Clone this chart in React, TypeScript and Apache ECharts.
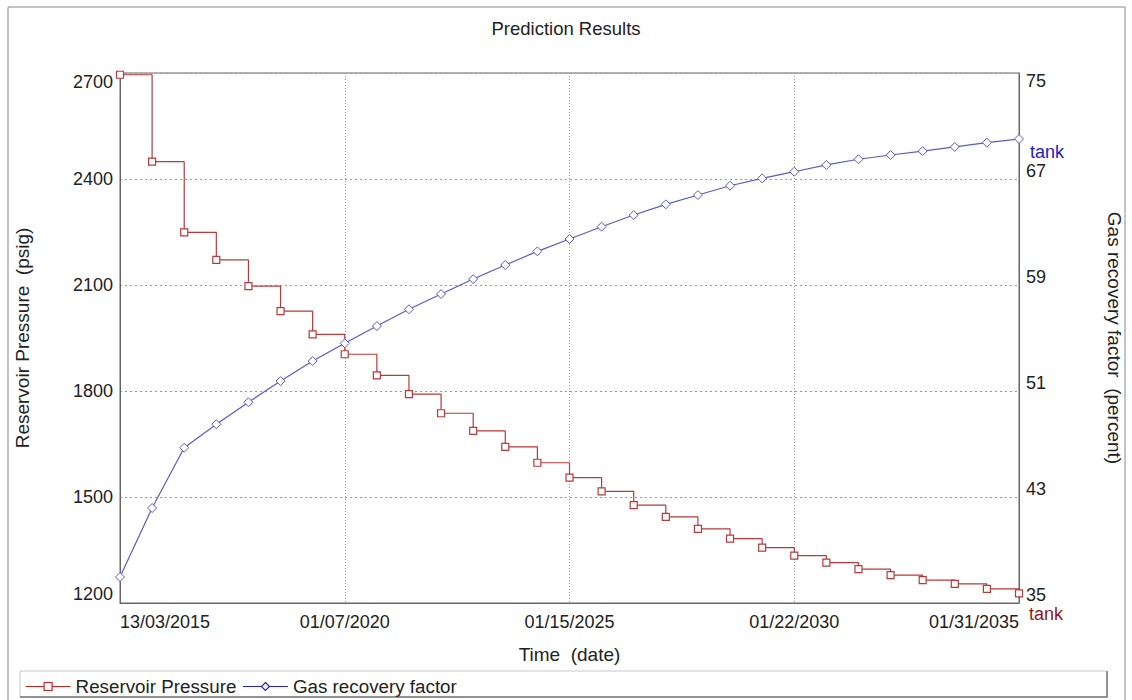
import React, { useEffect, useRef } from "react";
import * as echarts from "echarts";

const xTickLabels = ["13/03/2015", "01/07/2020", "01/15/2025", "01/22/2030", "01/31/2035"];
const stepsPerTick = 7;

const pressure = [
  2695, 2449, 2249, 2171, 2097, 2026, 1960, 1904, 1844, 1791, 1737, 1687, 1642, 1597, 1555,
  1516, 1477, 1444, 1410, 1382, 1357, 1334, 1314, 1296, 1279, 1265, 1254, 1240, 1227,
];
const recovery = [
  36.96, 42.17, 46.72, 48.49, 50.15, 51.75, 53.26, 54.6, 55.9, 57.17, 58.32, 59.45, 60.51,
  61.54, 62.47, 63.4, 64.28, 65.09, 65.79, 66.49, 67.05, 67.55, 68.06, 68.49, 68.81, 69.11,
  69.42, 69.74, 70.02,
];

const FONT = "'Liberation Sans', Arial, sans-serif";
const TXT = "#222";
const TICK_FS = 18;
const NAME_FS = 19;

export default function App() {
  const ref = useRef<HTMLDivElement>(null);
  useEffect(() => {
    if (!ref.current) return;
    const chart = echarts.init(ref.current, null, { renderer: "svg" });
    const pData = pressure.map((v, i) => [i, v]);
    const rData = recovery.map((v, i) => [i, v]);
    chart.setOption({
      animation: false,
      backgroundColor: "#fff",
      textStyle: { fontFamily: FONT },
      title: {
        text: "Prediction Results",
        left: "center",
        top: 14,
        textStyle: { fontFamily: FONT, fontSize: 18.5, fontWeight: "normal", color: TXT },
      },
      grid: {
        left: 120,
        right: 111,
        top: 73,
        bottom: 97,
        show: true,
        borderColor: "#666",
        borderWidth: 1,
        backgroundColor: "#fff",
      },
      legend: {
        left: 20,
        top: 672,
        itemWidth: 45,
        itemHeight: 10,
        itemGap: 6,
        textStyle: { fontFamily: FONT, fontSize: 18.8, color: TXT },
        data: [
          {
            name: "Reservoir Pressure",
            itemStyle: { color: "#fff", borderColor: "#d02020", borderWidth: 1.2 },
            lineStyle: { color: "#d02020", width: 1.2 },
          },
          {
            name: "Gas recovery factor",
            itemStyle: { color: "#fff", borderColor: "#2020d0", borderWidth: 1.2 },
            lineStyle: { color: "#2020d0", width: 1.2 },
          },
        ],
      },
      xAxis: {
        type: "value",
        min: 0,
        max: (xTickLabels.length - 1) * stepsPerTick,
        interval: stepsPerTick,
        name: "Time  (date)",
        nameLocation: "middle",
        nameGap: 42,
        nameTextStyle: { fontFamily: FONT, fontSize: NAME_FS, color: TXT },
        axisLine: { show: true, lineStyle: { color: "#666" } },
        axisTick: { show: false },
        splitLine: { show: true, lineStyle: { color: "#999", type: [1, 2] } },
        axisLabel: {
          fontFamily: FONT,
          fontSize: TICK_FS,
          color: TXT,
          margin: 10,
          alignMinLabel: "left",
          alignMaxLabel: "right",
          formatter: (v: number) => xTickLabels[Math.round(v / stepsPerTick)] ?? "",
        },
      },
      yAxis: [
        {
          type: "value",
          min: 1200,
          max: 2700,
          interval: 300,
          name: "Reservoir Pressure  (psig)",
          nameLocation: "middle",
          nameGap: 88,
          nameRotate: 90,
          nameTextStyle: { fontFamily: FONT, fontSize: NAME_FS, color: TXT },
          axisLine: { show: true, lineStyle: { color: "#666" } },
          axisTick: { show: false },
          splitLine: { show: true, lineStyle: { color: "#999", type: [2, 3] } },
          axisLabel: {
            fontFamily: FONT,
            fontSize: TICK_FS,
            color: TXT,
            margin: 7,
            verticalAlignMinLabel: "bottom",
            verticalAlignMaxLabel: "top",
            formatter: (v: number) => String(v),
          },
        },
        {
          type: "value",
          min: 35,
          max: 75,
          interval: 8,
          position: "right",
          name: "Gas recovery factor  (percent)",
          nameLocation: "middle",
          nameGap: 86,
          nameRotate: -90,
          nameTextStyle: { fontFamily: FONT, fontSize: NAME_FS, color: TXT },
          axisLine: { show: true, lineStyle: { color: "#666" } },
          axisTick: { show: false },
          splitLine: { show: false },
          axisLabel: {
            fontFamily: FONT,
            fontSize: TICK_FS,
            color: TXT,
            margin: 7,
            lineHeight: 16,
            verticalAlign: "bottom",
            verticalAlignMaxLabel: "top",
            formatter: (v: number) => String(v),
          },
        },
      ],
      series: [
        {
          name: "Reservoir Pressure",
          type: "line",
          yAxisIndex: 0,
          step: "end",
          data: pData,
          symbol: "rect",
          symbolSize: 7,
          showAllSymbol: true,
          lineStyle: { color: "#b83a3a", width: 1.2 },
          itemStyle: { color: "#fff", borderColor: "#b83a3a", borderWidth: 1.2 },
          endLabel: {
            show: true,
            formatter: "tank",
            offset: [2, 21],
            lineHeight: 12,
            color: "#8b1a1a",
            fontFamily: FONT,
            fontSize: TICK_FS,
          },
          z: 3,
        },
        {
          name: "Gas recovery factor",
          type: "line",
          yAxisIndex: 1,
          data: rData,
          symbol: "diamond",
          symbolSize: 9,
          showAllSymbol: true,
          lineStyle: { color: "#5a5ac8", width: 1.2 },
          itemStyle: { color: "#fff", borderColor: "#5a5ac8", borderWidth: 1 },
          endLabel: {
            show: true,
            formatter: "tank",
            offset: [3, 13],
            lineHeight: 14,
            color: "#2020c0",
            fontFamily: FONT,
            fontSize: TICK_FS,
          },
          z: 4,
        },
      ],
      graphic: [
        {
          type: "rect",
          shape: { x: 8, y: 7, width: 1117, height: 720 },
          style: { fill: "none", stroke: "#888", lineWidth: 1 },
          silent: true,
          z: -10,
        },
        {
          type: "rect",
          shape: { x: 20, y: 671, width: 1087, height: 26 },
          style: { fill: "none", stroke: "#c8c8c8", lineWidth: 1 },
          silent: true,
          z: -5,
        },
        {
          type: "polyline",
          shape: { points: [[20, 697], [1107, 697], [1107, 671]] },
          style: { fill: "none", stroke: "#777", lineWidth: 1.5 },
          silent: true,
          z: -4,
        },
      ],
    });
    return () => chart.dispose();
  }, []);
  return (
    <div
      ref={ref}
      style={{ position: "fixed", left: 0, top: 0, width: 1132, height: 700, background: "#fff" }}
    />
  );
}
